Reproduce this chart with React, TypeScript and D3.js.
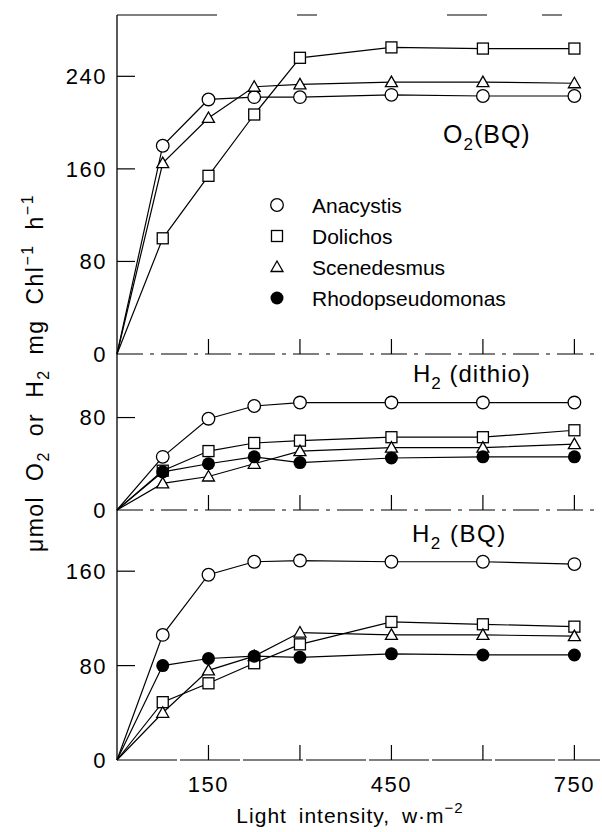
import React from 'react';
import * as d3 from 'd3';

// light intensity, w.m-2
const intensity = [0, 75, 150, 225, 300, 450, 600, 750];

// O2 evolution with benzoquinone
const o2BQ = {
  Anacystis: [0, 180, 220, 222, 222, 224, 223, 223],
  Dolichos: [0, 100, 154, 207, 256, 265, 264, 264],
  Scenedesmus: [0, 165, 204, 231, 233, 235, 235, 234],
};

// H2 evolution with dithionite
const h2Dithio = {
  Anacystis: [0, 46, 79, 90, 93, 93, 93, 93],
  Dolichos: [0, 34, 51, 58, 60, 63, 63, 69],
  Scenedesmus: [0, 23, 29, 40, 51, 54, 54, 57],
  Rhodopseudomonas: [0, 33, 40, 46, 41, 45, 46, 46],
};

// H2 evolution with benzoquinone
const h2BQ = {
  Anacystis: [0, 106, 157, 168, 169, 168, 168, 166],
  Dolichos: [0, 49, 65, 82, 98, 117, 115, 113],
  Scenedesmus: [0, 40, 76, 88, 108, 106, 106, 105],
  Rhodopseudomonas: [0, 80, 86, 88, 87, 90, 89, 89],
};

const species = ['Anacystis', 'Dolichos', 'Scenedesmus', 'Rhodopseudomonas'];
const symbols = ['circle', 'square', 'triangle', 'dot'];
const xTicks = [150, 300, 450, 600, 750];
const xTickLabels = [150, 450, 750];

const FONT = '"Liberation Sans", Arial, sans-serif';
const W = 602;
const H = 832;

const x = d3.scaleLinear().domain([0, 792]).range([117, 600]);

const panels = [
  { name: 'top', data: o2BQ, y: d3.scaleLinear().domain([0, 293]).range([354, 15]), yTicks: [0, 80, 160, 240] },
  { name: 'mid', data: h2Dithio, y: d3.scaleLinear().domain([0, 135]).range([510, 354]), yTicks: [0, 80] },
  { name: 'bot', data: h2BQ, y: d3.scaleLinear().domain([0, 211]).range([760, 511]), yTicks: [0, 80, 160] },
];

const Marker = ({ kind, cx, cy }: { kind: string; cx: number; cy: number }) => {
  const s = 1.3;
  if (kind === 'circle') return <circle cx={cx} cy={cy} r={6.3} fill="#fff" stroke="#000" strokeWidth={s} />;
  if (kind === 'dot') return <circle cx={cx} cy={cy} r={6.5} fill="#000" />;
  if (kind === 'square') return <rect x={cx - 5.5} y={cy - 5.5} width={11} height={11} fill="#fff" stroke="#000" strokeWidth={s} />;
  const h = 10;
  return (
    <path
      d={`M${cx},${cy - h * 0.6} L${cx + 6},${cy + h * 0.45} L${cx - 6},${cy + h * 0.45} Z`}
      fill="#fff"
      stroke="#000"
      strokeWidth={s}
    />
  );
};

export default function App() {
  const line = (y: d3.ScaleLinear<number, number>) =>
    d3
      .line<number>()
      .x((_, i) => x(intensity[i]))
      .y((d) => y(d));

  return (
    <svg
      width={W}
      height={H}
      style={{ position: 'absolute', left: 0, top: 0, background: '#fff' }}
      fontFamily={FONT}
    >
      <rect width={W} height={H} fill="#fff" />
      {/* left axis */}
      <line x1={117} x2={117} y1={15} y2={760} stroke="#000" strokeWidth={1.3} />
      {/* broken top border */}
      <line x1={117} x2={600} y1={15} y2={15} stroke="#000" strokeWidth={1.2} strokeDasharray="100 80 20 130 40 55 20 100" />

      {panels.map((p) => {
        const y0 = p.y(0);
        const dash = p.name === 'bot' ? '60 3' : '26 7 4 7';
        return (
          <g key={p.name}>
            <line x1={117} x2={600} y1={y0} y2={y0} stroke="#000" strokeWidth={1.2} strokeDasharray={dash} />
            {xTicks.map((t) => (
              <line key={t} x1={x(t)} x2={x(t)} y1={y0} y2={y0 - 15} stroke="#000" strokeWidth={1.2} />
            ))}
            {p.yTicks.filter((t) => t > 0).map((t) => (
              <line key={t} x1={117} x2={135} y1={p.y(t)} y2={p.y(t)} stroke="#000" strokeWidth={1.2} />
            ))}
            {p.yTicks.map((t) => (
              <text key={'l' + t} x={107} y={p.y(t)} dy="0.36em" textAnchor="end" fontSize={22} letterSpacing={1.5}>
                {t}
              </text>
            ))}
            {species.map((sp) => {
              const vals = (p.data as Record<string, number[]>)[sp];
              if (!vals) return null;
              return <path key={sp} d={line(p.y)(vals) || ''} fill="none" stroke="#000" strokeWidth={1.2} />;
            })}
            {species.map((sp, si) => {
              const vals = (p.data as Record<string, number[]>)[sp];
              if (!vals) return null;
              return vals.map((v, i) =>
                i === 0 ? null : <Marker key={sp + i} kind={symbols[si]} cx={x(intensity[i])} cy={p.y(v)} />
              );
            })}
          </g>
        );
      })}

      {/* panel titles */}
      <text x={443} y={143} fontSize={25} letterSpacing={1}>
        O<tspan fontSize={17} dy={7}>2</tspan>
        <tspan dy={-7}>(BQ)</tspan>
      </text>
      <text x={413} y={382} fontSize={24} letterSpacing={1}>
        H<tspan fontSize={17} dy={7}>2</tspan>
        <tspan dy={-7}> (dithio)</tspan>
      </text>
      <text x={412} y={542} fontSize={24} letterSpacing={1.5}>
        H<tspan fontSize={17} dy={7}>2</tspan>
        <tspan dy={-7}> (BQ)</tspan>
      </text>

      {/* legend */}
      {species.map((sp, i) => (
        <g key={sp} transform={`translate(0, ${205 + i * 31})`}>
          <Marker kind={symbols[i]} cx={277} cy={0} />
          <text x={312} y={0} dy="0.36em" fontSize={21}>
            {sp}
          </text>
        </g>
      ))}

      {/* x axis labels */}
      {xTickLabels.map((t) => (
        <text key={t} x={x(t)} y={792} textAnchor="middle" fontSize={22} letterSpacing={1.5}>
          {t}
        </text>
      ))}
      <text x={350} y={823} textAnchor="middle" fontSize={21} letterSpacing={1} wordSpacing={5}>
        Light intensity, w·m
        <tspan fontSize={15} dy={-10}>−2</tspan>
      </text>

      {/* y axis title */}
      <text transform="translate(43, 373) rotate(-90)" textAnchor="middle" fontSize={23} letterSpacing={1.5} wordSpacing={7}>
        μmol O<tspan fontSize={16} dy={6}>2</tspan>
        <tspan dy={-6}> or H</tspan>
        <tspan fontSize={16} dy={6}>2</tspan>
        <tspan dy={-6}> mg Chl</tspan>
        <tspan fontSize={16} dy={-10}>−1</tspan>
        <tspan dy={10}> h</tspan>
        <tspan fontSize={16} dy={-10}>−1</tspan>
      </text>
    </svg>
  );
}
